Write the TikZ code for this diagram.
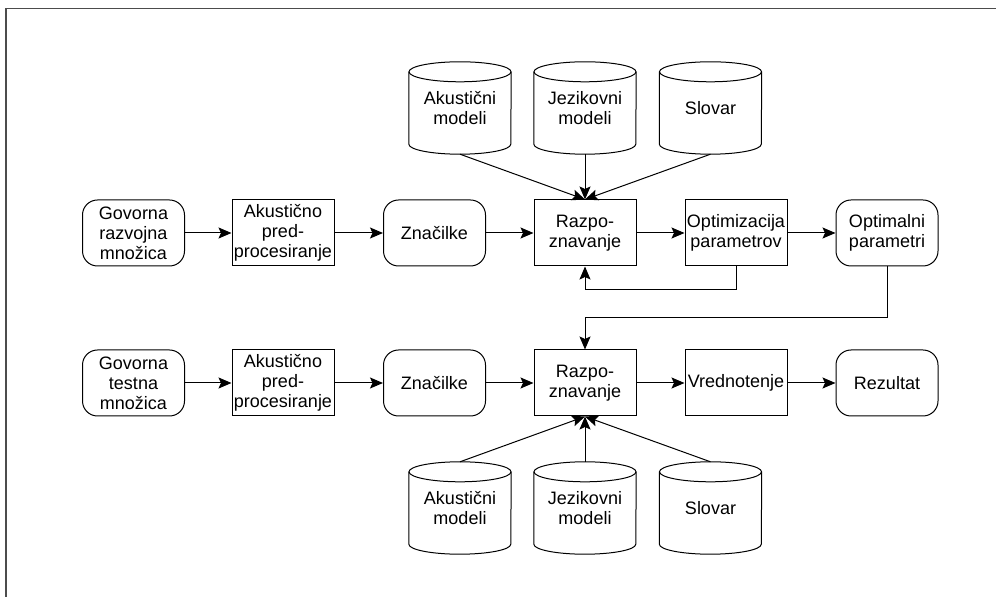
\documentclass[tikz,border=0pt]{standalone}
\usepackage{fontspec}
\setmainfont{Liberation Sans}
\usetikzlibrary{arrows.meta}
\begin{document}
\begin{tikzpicture}[x=1pt,y=1pt,
  txt/.style={font=\fontsize{18}{20}\selectfont, align=center, inner sep=0pt},
  proc/.style={txt, draw, line width=1pt, minimum width=102pt, minimum height=66pt},
  data/.style={proc, rounded corners=15pt},
  db/.style={txt, minimum width=102pt, minimum height=92pt},
  cylline/.style={line width=1pt},
  arr/.style={line width=1pt, -{Stealth[length=13pt,width=11pt,inset=2.5pt]}},
  frame/.style={line width=1.6pt, black!70}
]
\useasboundingbox (0,0) rectangle (996,597);
\coordinate (fa) at (6,0);
\coordinate (fb) at (6,588.5);
\coordinate (fc) at (996,588.5);
\draw[frame] (fa) -- (fb) -- (fc);

% row 1
\node[data] (g1) at (133.5,364) {Govorna\\razvojna\\množica};
\node[proc] (a1) at (283,364) {Akustično\\pred-\\procesiranje};
\node[data] (z1) at (434.5,364) {Značilke};
\node[proc] (r1) at (585,364) {Razpo-\\znavanje};
\node[proc] (o1) at (736,364) {Optimizacija\\parametrov};
\node[data] (p1) at (887,364) {Optimalni\\parametri};

% row 2
\node[data] (g2) at (133.5,214) {Govorna\\testna\\množica};
\node[proc] (a2) at (283,214) {Akustično\\pred-\\procesiranje};
\node[data] (z2) at (434.5,214) {Značilke};
\node[proc] (r2) at (585,214) {Razpo-\\znavanje};
\node[proc] (v2) at (736,214) {Vrednotenje};
\node[data] (e2) at (887,214) {Rezultat};

% cylinders
\node[db] (ta) at (460,489) {Akustični\\modeli};
\node[db] (tj) at (585,489) {Jezikovni\\modeli};
\node[db] (ts) at (710.5,489) {Slovar};
\node[db] (ba) at (460,89) {Akustični\\modeli};
\node[db] (bj) at (585,89) {Jezikovni\\modeli};
\node[db] (bs) at (710.5,89) {Slovar};

\foreach \n in {ta,tj,ts,ba,bj,bs}{
  \draw[cylline] ([yshift=-10pt]\n.north) ellipse [x radius=51, y radius=10];
  \draw[cylline] ([yshift=-10pt]\n.north west) -- ([yshift=10pt]\n.south west)
     arc[start angle=180, end angle=360, x radius=51, y radius=10]
     -- ([yshift=-10pt]\n.north east);
}

% connectors
\draw[arr] (g1) -- (a1);
\draw[arr] (a1) -- (z1);
\draw[arr] (z1) -- (r1);
\draw[arr] (r1) -- (o1);
\draw[arr] (o1) -- (p1);
\draw[arr] (g2) -- (a2);
\draw[arr] (a2) -- (z2);
\draw[arr] (z2) -- (r2);
\draw[arr] (r2) -- (v2);
\draw[arr] (v2) -- (e2);

\draw[arr] (ta.south) -- (r1.north);
\draw[arr] (tj.south) -- (r1.north);
\draw[arr] (ts.south) -- (r1.north);
\draw[arr] (ba.north) -- (r2.south);
\draw[arr] (bj.north) -- (r2.south);
\draw[arr] (bs.north) -- (r2.south);

\draw[arr] (o1.south) -- ++(0,-23) -| (r1.south);
\draw[arr] (p1.south) -- ++(0,-51) -| (r2.north);
\end{tikzpicture}
\end{document}
